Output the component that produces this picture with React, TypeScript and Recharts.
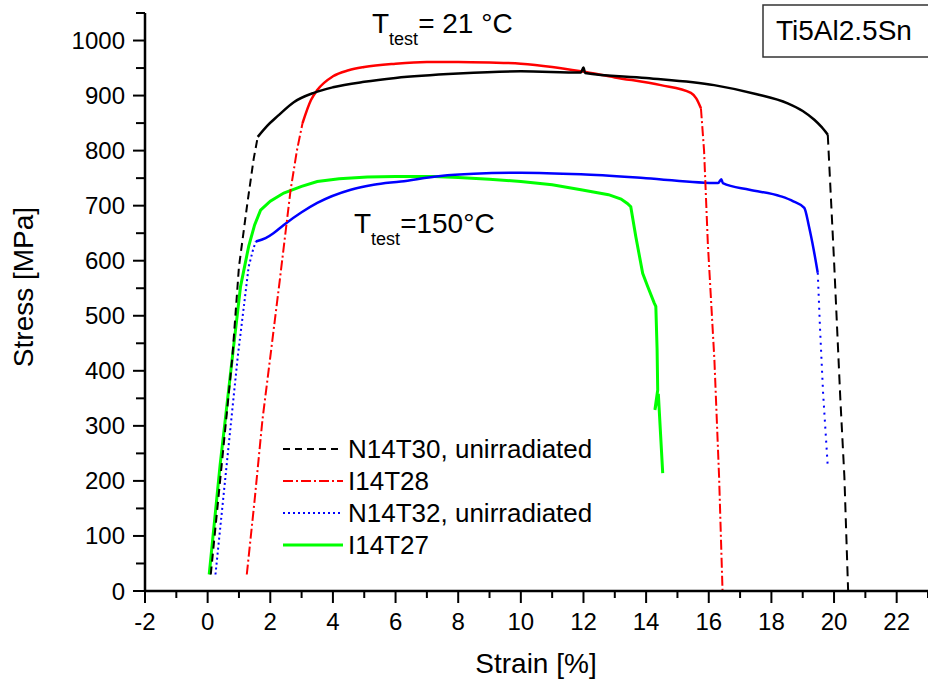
import { LineChart, Line, XAxis, YAxis, Legend } from 'recharts'

type Pt = { strain: number; stress: number }
const pts = (arr: number[][]): Pt[] => arr.map(([strain, stress]) => ({ strain, stress }))

// N14T30, unirradiated (21 °C)
const n14t30Elastic = pts([[0.1, 30], [0.45, 230], [0.79, 425], [1.0, 589], [1.27, 705], [1.47, 785], [1.6, 825]])
const n14t30Plastic = pts([
  [1.6, 825], [1.9, 845], [2.24, 863], [2.75, 888], [3.39, 905], [4, 915], [5, 925], [6, 932],
  [8, 940], [10, 944], [11.92, 942], [12.0, 951], [12.05, 941], [14, 932], [16.17, 919],
  [17.5, 903], [18.52, 886], [19.0, 872], [19.37, 856], [19.6, 843], [19.8, 829],
])
const n14t30Fracture = pts([[19.8, 829], [20.0, 600], [20.2, 350], [20.33, 208], [20.45, 0]])

// I14T28 (21 °C)
const i14t28Elastic = pts([[1.25, 30], [1.5, 165], [1.75, 311], [2.0, 425], [2.3, 563], [2.65, 729], [2.85, 800], [3.03, 850]])
const i14t28Plastic = pts([
  [3.03, 850], [3.3, 892], [3.5, 910], [4, 935], [4.5, 946], [5, 952], [6, 958], [7, 961],
  [8, 961], [9, 960], [10, 958], [11, 952], [11.92, 944], [13, 933], [14.47, 919],
  [15.43, 905], [15.6, 895], [15.75, 877],
])
const i14t28Fracture = pts([[15.75, 877], [15.85, 800], [15.97, 632], [16.18, 420], [16.33, 207], [16.44, 0]])

// N14T32, unirradiated (150 °C)
const n14t32Elastic = pts([[0.25, 30], [0.6, 225], [0.96, 425], [1.31, 589], [1.45, 620], [1.54, 635]])
const n14t32Plastic = pts([
  [1.54, 635], [1.85, 641], [2.1, 650], [2.43, 665], [3.0, 688], [3.5, 705], [4.57, 729],
  [5.3, 738], [6.17, 744], [7.44, 754], [8.5, 758], [10, 760], [11.92, 757], [14, 750],
  [16.3, 741], [16.4, 748], [16.45, 741], [17.3, 729], [18.3, 717], [18.7, 708], [19.05, 696],
  [19.2, 662], [19.35, 620], [19.48, 578],
])
const n14t32Fracture = pts([[19.48, 578], [19.55, 480], [19.65, 360], [19.8, 226]])

// I14T27 (150 °C)
const i14t27Curve = pts([
  [0.05, 30], [0.4, 230], [0.79, 425], [1.05, 553], [1.31, 626], [1.5, 665], [1.69, 692],
  [2.0, 708], [2.43, 723], [3.0, 735], [3.5, 744], [4.2, 749], [5.1, 752], [6, 753],
  [7.22, 753], [8, 751], [9, 748], [10, 744], [11, 738], [11.92, 729], [12.8, 720],
  [13.2, 712], [13.4, 704], [13.51, 698], [13.67, 644], [13.89, 577], [14.05, 553], [14.26, 523],
  [14.31, 517], [14.35, 440], [14.37, 365], [14.28, 329], [14.39, 358], [14.53, 214],
])

const xTicks = Array.from({ length: 26 }, (_, i) => i - 2)
const yTicks = Array.from({ length: 22 }, (_, i) => i * 50)

const legendItems = [
  { name: 'N14T30, unirradiated', color: '#000000', dash: '7 5', width: 2 },
  { name: 'I14T28', color: '#ff0000', dash: '10 3 2 3', width: 2 },
  { name: 'N14T32, unirradiated', color: '#0000ff', dash: '2 3', width: 2 },
  { name: 'I14T27', color: '#00ff00', dash: undefined, width: 3 },
]

const FONT = '"Liberation Sans", Arial, sans-serif'

function XTick(props: any) {
  const { x, y, payload } = props
  const major = payload.value % 2 === 0
  return (
    <g>
      <line x1={x} x2={x} y1={y} y2={y + (major ? 12 : 7)} stroke="#000" strokeWidth={2} />
      {major && (
        <text x={x} y={630} textAnchor="middle" fontSize={24} fontFamily={FONT} fill="#000">
          {payload.value}
        </text>
      )}
    </g>
  )
}

function YTick(props: any) {
  const { x, y, payload } = props
  const major = payload.value % 100 === 0
  return (
    <g>
      <line x1={x - (major ? 12 : 9)} x2={x} y1={y} y2={y} stroke="#000" strokeWidth={2} />
      {major && (
        <text x={125} y={y + 8.5} textAnchor="end" fontSize={24} fontFamily={FONT} fill="#000">
          {payload.value}
        </text>
      )}
    </g>
  )
}

function LegendBox() {
  return (
    <svg width={340} height={130} style={{ display: 'block' }}>
      {legendItems.map((it, i) => {
        const cy = 19 + i * 32
        return (
          <g key={it.name}>
            <line x1={0} x2={60} y1={cy} y2={cy} stroke={it.color} strokeWidth={it.width} strokeDasharray={it.dash} />
            <text x={65} y={cy + 9} fontSize={26} fontFamily={FONT} fill="#000">
              {it.name}
            </text>
          </g>
        )
      })}
    </svg>
  )
}

export default function App() {
  return (
    <div style={{ position: 'absolute', left: 0, top: 0, width: 928, height: 685, background: '#fff' }}>
      <LineChart width={928} height={685} margin={{ top: 13, right: 0, bottom: 34, left: 65 }}>
        <XAxis
          type="number"
          dataKey="strain"
          domain={[-2, 23]}
          ticks={xTicks}
          interval={0}
          tickSize={0}
          tickMargin={0}
          height={60}
          axisLine={{ stroke: '#000', strokeWidth: 2.5 }}
          tickLine={false}
          tick={<XTick />}
        />
        <YAxis
          type="number"
          dataKey="stress"
          domain={[0, 1050]}
          ticks={yTicks}
          interval={0}
          tickSize={0}
          tickMargin={0}
          width={80}
          axisLine={{ stroke: '#000', strokeWidth: 2.5 }}
          tickLine={false}
          tick={<YTick />}
        />
        <Legend
          layout="vertical"
          align="center"
          verticalAlign="middle"
          wrapperStyle={{ left: 283, top: 430, width: 340 }}
          content={() => <LegendBox />}
        />
        <Line data={i14t27Curve} dataKey="stress" type="linear" stroke="#00ff00" strokeWidth={3} dot={false} activeDot={false} isAnimationActive={false} legendType="none" />
        <Line data={n14t32Elastic} dataKey="stress" type="linear" stroke="#0000ff" strokeWidth={2} strokeDasharray="2 3" dot={false} activeDot={false} isAnimationActive={false} legendType="none" />
        <Line data={n14t32Plastic} dataKey="stress" type="monotone" stroke="#0000ff" strokeWidth={2.5} dot={false} activeDot={false} isAnimationActive={false} legendType="none" />
        <Line data={n14t32Fracture} dataKey="stress" type="linear" stroke="#0000ff" strokeWidth={2} strokeDasharray="2 5" dot={false} activeDot={false} isAnimationActive={false} legendType="none" />
        <Line data={i14t28Elastic} dataKey="stress" type="linear" stroke="#ff0000" strokeWidth={2} strokeDasharray="10 3 2 3" dot={false} activeDot={false} isAnimationActive={false} legendType="none" />
        <Line data={i14t28Plastic} dataKey="stress" type="monotone" stroke="#ff0000" strokeWidth={2.5} dot={false} activeDot={false} isAnimationActive={false} legendType="none" />
        <Line data={i14t28Fracture} dataKey="stress" type="linear" stroke="#ff0000" strokeWidth={2} strokeDasharray="10 3 2 3" dot={false} activeDot={false} isAnimationActive={false} legendType="none" />
        <Line data={n14t30Elastic} dataKey="stress" type="linear" stroke="#000000" strokeWidth={2} strokeDasharray="8 5" dot={false} activeDot={false} isAnimationActive={false} legendType="none" />
        <Line data={n14t30Plastic} dataKey="stress" type="monotone" stroke="#000000" strokeWidth={2.5} dot={false} activeDot={false} isAnimationActive={false} legendType="none" />
        <Line data={n14t30Fracture} dataKey="stress" type="linear" stroke="#000000" strokeWidth={2} strokeDasharray="10 6" dot={false} activeDot={false} isAnimationActive={false} legendType="none" />
      </LineChart>
      <svg
        width={928}
        height={685}
        style={{ position: 'absolute', left: 0, top: 0, pointerEvents: 'none' }}
        fontFamily={FONT}
      >
        <text x={33} y={287} transform="rotate(-90 33 287)" textAnchor="middle" fontSize={28} fill="#000">
          Stress [MPa]
        </text>
        <text x={536} y={673} textAnchor="middle" fontSize={28} fill="#000">
          Strain [%]
        </text>
        <text x={372} y={33} fontSize={28} fill="#000">
          T<tspan fontSize={18} dy={12}>test</tspan>
          <tspan fontSize={28} dy={-12}>= 21 °C</tspan>
        </text>
        <text x={354} y={233} fontSize={28} fill="#000">
          T<tspan fontSize={18} dy={12}>test</tspan>
          <tspan fontSize={28} dy={-12}>=150°C</tspan>
        </text>
        <rect x={763} y={5} width={200} height={52} fill="none" stroke="#333" strokeWidth={1.5} />
        <text x={776} y={40} fontSize={28} fill="#000">
          Ti5Al2.5Sn
        </text>
      </svg>
    </div>
  )
}
